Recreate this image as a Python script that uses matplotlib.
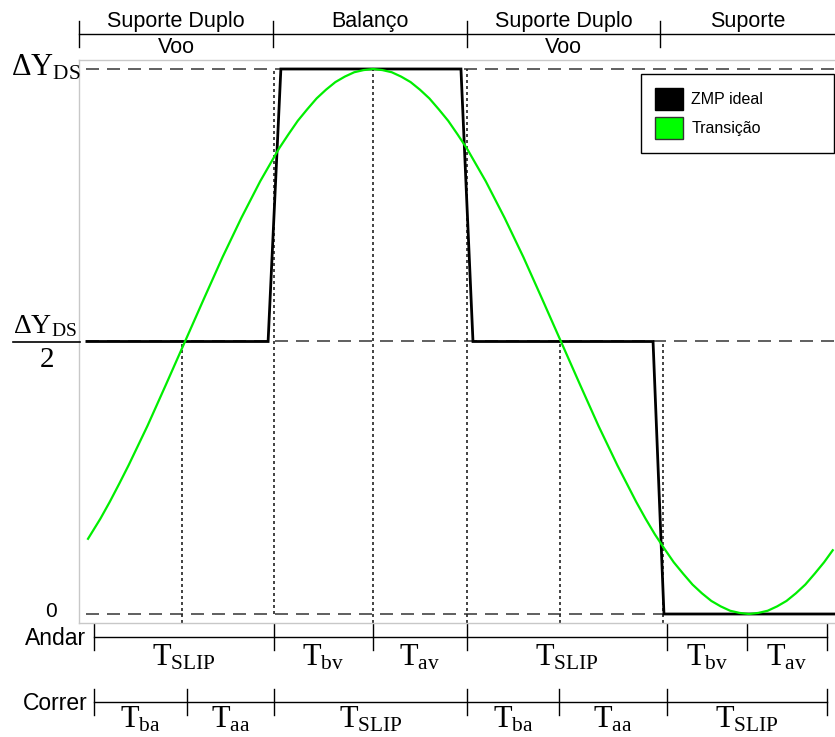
import matplotlib
matplotlib.use('Agg')
import matplotlib.pyplot as plt
from matplotlib.transforms import blended_transform_factory
from matplotlib.patches import Patch
from matplotlib.lines import Line2D

plt.rcParams['mathtext.fontset'] = 'custom'
plt.rcParams['mathtext.rm'] = 'Liberation Serif'
plt.rcParams['mathtext.it'] = 'Liberation Serif:italic'
plt.rcParams['mathtext.bf'] = 'Liberation Serif:bold'
plt.rcParams['font.family'] = ['Liberation Sans', 'DejaVu Sans']

# ---------------- data (time in step units, y in units of dY_DS) ----------------
zmp_t = [0.239, 0.721, 0.755, 1.234, 1.266, 1.745, 1.774, 2.229]
zmp_y = [0.5, 0.5, 1.0, 1.0, 0.5, 0.5, 0.0, 0.0]

trans_t = [0.242, 0.275, 0.30, 0.325, 0.35, 0.375, 0.40, 0.45, 0.50, 0.55,
           0.60, 0.65, 0.70, 0.75, 0.775, 0.80, 0.825, 0.85, 0.875, 0.90,
           0.925, 0.95, 0.975, 1.00, 1.025, 1.05, 1.075, 1.10, 1.125, 1.15,
           1.175, 1.20, 1.225, 1.25, 1.30, 1.35, 1.40, 1.45, 1.50, 1.55,
           1.60, 1.65, 1.70, 1.725, 1.75, 1.775, 1.80, 1.825, 1.85, 1.875,
           1.90, 1.925, 1.95, 1.975, 2.00, 2.025, 2.05, 2.075, 2.10, 2.125,
           2.15, 2.175, 2.20, 2.223]
trans_y = [0.138, 0.175, 0.206, 0.239, 0.273, 0.309, 0.345, 0.422, 0.500, 0.578,
           0.655, 0.727, 0.794, 0.854, 0.880, 0.905, 0.926, 0.946, 0.962, 0.976,
           0.986, 0.994, 0.998, 1.000, 0.998, 0.994, 0.986, 0.976, 0.962, 0.946,
           0.926, 0.905, 0.880, 0.854, 0.794, 0.727, 0.655, 0.578, 0.500, 0.422,
           0.345, 0.273, 0.206, 0.175, 0.146, 0.120, 0.095, 0.074, 0.054, 0.038,
           0.024, 0.014, 0.006, 0.002, 0.000, 0.002, 0.006, 0.014, 0.024, 0.038,
           0.054, 0.074, 0.095, 0.117]

ref_levels = [0.0, 0.5, 1.0]
ref_start = 0.237

dotted_t = [0.492, 0.737, 1.0, 1.25, 1.497, 1.771]
dotted_top = [0.5, 1.0, 1.0, 1.0, 0.5, 0.5]
dotted_bottom = [-0.0165, 0.0, -0.0165, -0.0165, -0.0165, -0.0165]

phase_bounds = [0.218, 0.734, 1.25, 1.763]
phase_names = ['Suporte Duplo', 'Balanço', 'Suporte Duplo', 'Suporte']
phase_sub = ['Voo', '', 'Voo', '']

andar_bounds = [0.258, 0.737, 1.0, 1.25, 1.782, 1.995, 2.207]
andar_labels = ['SLIP', 'bv', 'av', 'SLIP', 'bv', 'av']
correr_bounds = [0.258, 0.505, 0.737, 1.25, 1.495, 1.782, 2.207]
correr_labels = ['ba', 'aa', 'SLIP', 'ba', 'aa', 'SLIP']

legend_labels = ['ZMP ideal', 'Transição']
zmp_color = 'black'
trans_color = '#00ee00'

# ---------------- figure ----------------
W, H = 835, 737
fig = plt.figure(figsize=(W / 100, H / 100), dpi=100)
ax = fig.add_axes([79 / W, 1 - 623 / H, (W - 79) / W, (623 - 60) / H])
xmin, xmax = 0.218, 2.229
ax.set_xlim(xmin, xmax)
ax.set_ylim(-0.0165, 1.0165)
ax.set_xticks([])
ax.set_yticks([])
for s in ['left', 'top', 'bottom']:
    ax.spines[s].set_color('#c8c8c8')
    ax.spines[s].set_linewidth(1.0)
ax.spines['right'].set_visible(False)


def fy(p):
    return 1 - p / H


def fx(p):
    return p / W


# reference dashed levels
for lv in ref_levels:
    ax.plot([ref_start, xmax], [lv, lv], color='#444444', lw=1.2,
            dashes=(7.8, 4.8), zorder=1)

# dotted verticals
for t, top, bot in zip(dotted_t, dotted_top, dotted_bottom):
    ax.plot([t, t], [bot, top], color='#222222', lw=1.2, dashes=(1.8, 1.8),
            zorder=1, clip_on=False)

ax.plot(trans_t, trans_y, color=trans_color, lw=1.6, zorder=3,
        label=legend_labels[1])
ax.plot(zmp_t, zmp_y, color=zmp_color, lw=2.0, zorder=2,
        label=legend_labels[0], solid_joinstyle='miter')

# legend
handles = [Patch(facecolor=zmp_color, edgecolor='black'),
           Patch(facecolor='#00ff00', edgecolor='#333333')]
leg = fig.legend(handles, legend_labels, loc='upper left',
                 bbox_to_anchor=(fx(641), fy(74), 193 / W, 0), mode='expand',
                 borderaxespad=0, fontsize=11.5, handlelength=1.75,
                 handleheight=1.75, handletextpad=0.55, labelspacing=0.45,
                 borderpad=0.85, frameon=True, fancybox=False,
                 edgecolor='black', framealpha=1)
leg.get_frame().set_linewidth(1.0)

trans = blended_transform_factory(ax.transData, fig.transFigure)

# header phases
hb = phase_bounds + [xmax]
ax.plot([hb[0], xmax], [fy(34), fy(34)], color='black', lw=1.0,
        transform=trans, clip_on=False)
for b in phase_bounds:
    ax.plot([b, b], [fy(21), fy(47)], color='black', lw=1.0,
            transform=trans, clip_on=False)
for i, (nm, sb) in enumerate(zip(phase_names, phase_sub)):
    c = (hb[i] + hb[i + 1]) / 2
    ax.text(c, fy(27), nm, transform=trans, ha='center', va='baseline',
            fontsize=15.5)
    if sb:
        ax.text(c, fy(53), sb, transform=trans, ha='center', va='baseline',
                fontsize=15.5)


def timeline(bounds, labels, yline, ybase):
    ax.plot([bounds[0], bounds[-1]], [fy(yline), fy(yline)], color='black',
            lw=1.0, transform=trans, clip_on=False)
    for b in bounds:
        ax.plot([b, b], [fy(yline - 13), fy(yline + 13)], color='black',
                lw=1.0, transform=trans, clip_on=False)
    for i, lb in enumerate(labels):
        c = (bounds[i] + bounds[i + 1]) / 2
        ax.text(c, fy(ybase), r'$\mathrm{T_{%s}}$' % lb, transform=trans,
                ha='center', va='baseline', fontsize=22)


timeline(andar_bounds, andar_labels, 637, 665)
timeline(correr_bounds, correr_labels, 702, 728)

fig.text(fx(86), fy(645), 'Andar', ha='right', va='baseline', fontsize=16.5)
fig.text(fx(88), fy(710), 'Correr', ha='right', va='baseline', fontsize=16.5)

# y labels
fig.text(fx(81), fy(76), r'$\mathrm{ΔY_{DS}}$', ha='right', va='baseline',
         fontsize=22)
fig.text(fx(45), fy(333), r'$\mathrm{ΔY_{DS}}$', ha='center', va='baseline',
         fontsize=20)
fig.add_artist(Line2D([fx(13), fx(80)], [fy(342), fy(342)], color='black',
                      lw=1.2, transform=fig.transFigure))
fig.text(fx(47), fy(367), '2', ha='center', va='baseline', fontsize=21,
         family='Liberation Serif')
fig.text(fx(51), fy(617), '0', ha='center', va='baseline', fontsize=15)

fig.savefig('out.png', dpi=100)
